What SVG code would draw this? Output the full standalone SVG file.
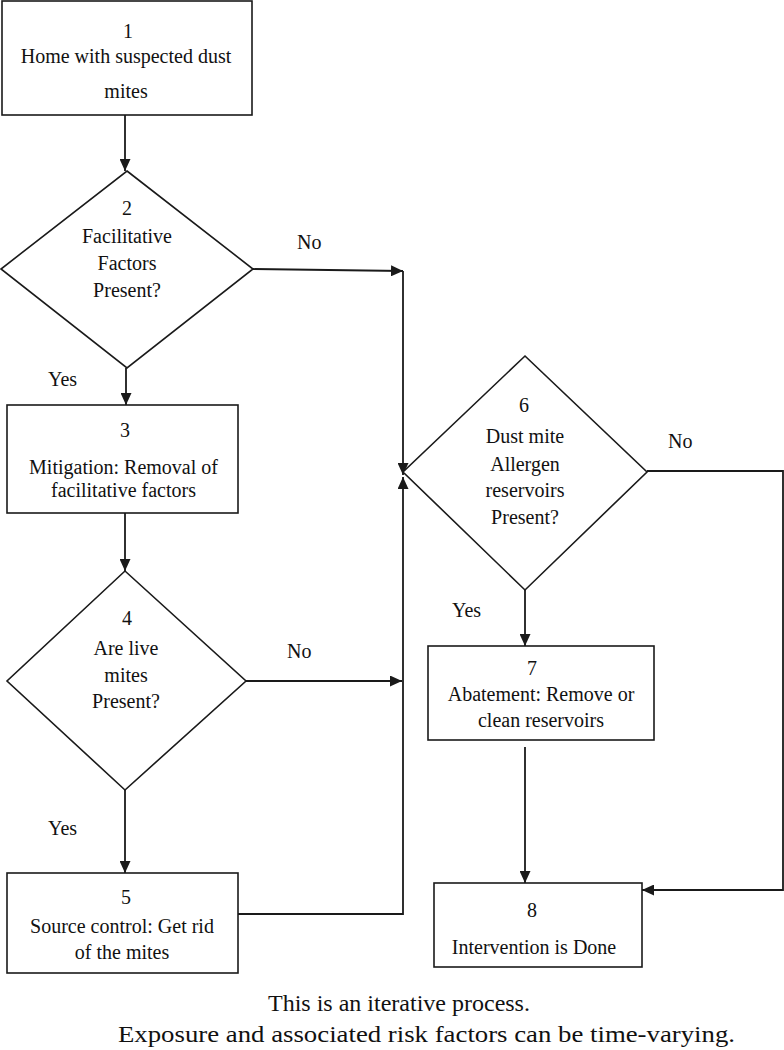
<svg xmlns="http://www.w3.org/2000/svg" width="784" height="1050" viewBox="0 0 784 1050" font-family="'Liberation Serif', 'Times New Roman', serif">
<defs>
<style>
.shape{fill:#fff;stroke:#1a1a1a;stroke-width:1.6}
.conn{fill:none;stroke:#1a1a1a;stroke-width:1.8}
text{font-family:'Liberation Serif','Times New Roman',serif;font-size:20px;fill:#111}
.c{text-anchor:middle}
.foot{font-size:24px}
</style>
<marker id="arr" markerUnits="userSpaceOnUse" markerWidth="12" markerHeight="11" refX="12" refY="5.5" orient="auto">
<path d="M0,0 L12,5.5 L0,11 z" fill="#1a1a1a"/>
</marker>
</defs>
<rect width="784" height="1050" fill="#fff"/>
<g id="connectors">
<path class="conn" d="M125,115 V171" marker-end="url(#arr)"/>
<path class="conn" d="M126,368 V405" marker-end="url(#arr)"/>
<path class="conn" d="M125,513 V571" marker-end="url(#arr)"/>
<path class="conn" d="M125,790 V873" marker-end="url(#arr)"/>
<path class="conn" d="M253,269 L403,271" marker-end="url(#arr)"/>
<path class="conn" d="M403,271 V475" marker-end="url(#arr)"/>
<path class="conn" d="M238,914 H403 V477" marker-end="url(#arr)"/>
<path class="conn" d="M246,681 H402" marker-end="url(#arr)"/>
<path class="conn" d="M525,590 V646" marker-end="url(#arr)"/>
<path class="conn" d="M525,747 V883" marker-end="url(#arr)"/>
<path class="conn" d="M647,471 H783 V890 H642" marker-end="url(#arr)"/>
</g>
<g id="labels">
<text x="297" y="249">No</text>
<text x="48" y="386">Yes</text>
<text x="287" y="658">No</text>
<text x="48" y="835">Yes</text>
<text x="668" y="448">No</text>
<text x="452" y="617">Yes</text>
</g>
<g id="node1">
<rect class="shape" x="2" y="1" width="250" height="114"/>
<text class="c" x="128" y="38">1</text>
<text class="c" x="126" y="63">Home with suspected dust</text>
<text class="c" x="126" y="98">mites</text>
</g>
<g id="node2">
<polygon class="shape" points="127,171 253,269 127,368 1,269"/>
<text class="c" x="127" y="215">2</text>
<text class="c" x="127" y="243">Facilitative</text>
<text class="c" x="127" y="270">Factors</text>
<text class="c" x="127" y="297">Present?</text>
</g>
<g id="node3">
<rect class="shape" x="7" y="405" width="231" height="108"/>
<text class="c" x="125" y="437">3</text>
<text class="c" x="123.5" y="474">Mitigation: Removal of</text>
<text class="c" x="123.5" y="497">facilitative factors</text>
</g>
<g id="node4">
<polygon class="shape" points="125,571 246,681 125,790 7,681"/>
<text class="c" x="127" y="625">4</text>
<text class="c" x="126" y="655">Are live</text>
<text class="c" x="126" y="682">mites</text>
<text class="c" x="126" y="708">Present?</text>
</g>
<g id="node5">
<rect class="shape" x="7" y="873" width="231" height="100"/>
<text class="c" x="126" y="904">5</text>
<text class="c" x="122" y="933">Source control: Get rid</text>
<text class="c" x="122" y="959">of the mites</text>
</g>
<g id="node6">
<polygon class="shape" points="525,356 647,472 525,590 403,472"/>
<text class="c" x="524" y="412">6</text>
<text class="c" x="525" y="443">Dust mite</text>
<text class="c" x="525" y="471">Allergen</text>
<text class="c" x="525" y="497">reservoirs</text>
<text class="c" x="525" y="524">Present?</text>
</g>
<g id="node7">
<rect class="shape" x="428" y="646" width="226" height="94"/>
<text class="c" x="532" y="675">7</text>
<text class="c" x="541" y="701">Abatement: Remove or</text>
<text class="c" x="541" y="727">clean reservoirs</text>
</g>
<g id="node8">
<rect class="shape" x="434" y="883" width="208" height="84"/>
<text class="c" x="532" y="917">8</text>
<text class="c" x="534" y="954">Intervention is Done</text>
</g>
<g id="footer">
<text class="c foot" x="399" y="1011">This is an iterative process.</text>
<text class="c foot" x="426.5" y="1042" font-size="25" textLength="617" lengthAdjust="spacingAndGlyphs">Exposure and associated risk factors can be time-varying.</text>
</g>
</svg>
